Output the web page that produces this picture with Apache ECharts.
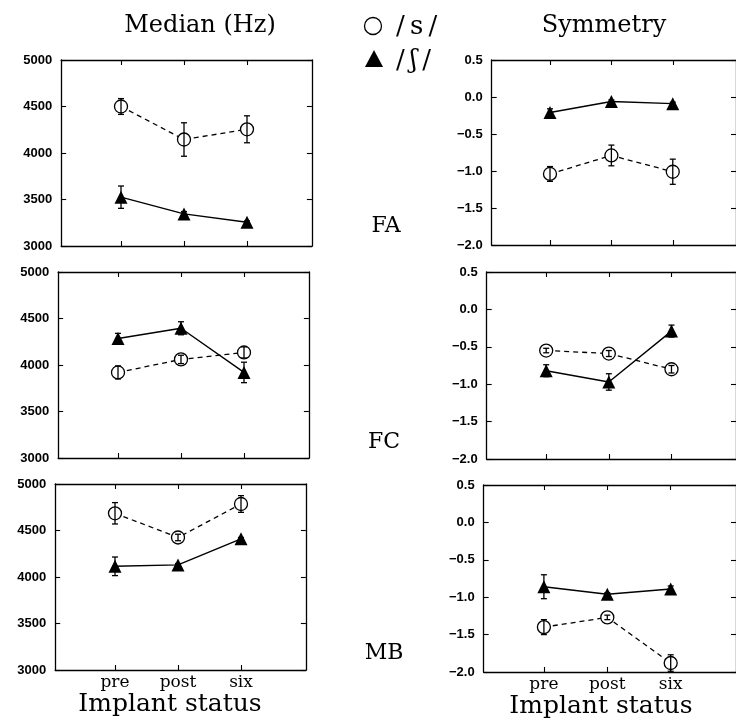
<!DOCTYPE html>
<html>
<head>
<meta charset="utf-8">
<title>Median and symmetry by implant status</title>
<script src="https://cdn.jsdelivr.net/npm/echarts@6.0.0/dist/echarts.min.js"></script>
<style>
  html, body { margin: 0; padding: 0; background: #fff; }
  #main { width: 736px; height: 722px; }
</style>
</head>
<body>
<div id="main"></div>
<script>
// categories and tick labels
var categories = ['pre', 'post', 'six'];
var talkers = ['FA', 'FC', 'MB'];
var medianTicks = [3000, 3500, 4000, 4500, 5000];
var symmetryTicks = [-2.0, -1.5, -1.0, -0.5, 0.0, 0.5];

// Median (Hz): /s/ (open circles) and /ʃ/ (filled triangles), mean and half error bar
var medianS_FA = [4500, 4145, 4255];
var medianSErr_FA = [85, 180, 145];
var medianSh_FA = [3525, 3345, 3255];
var medianShErr_FA = [120, 25, 15];

var medianS_FC = [3920, 4060, 4135];
var medianSErr_FC = [70, 45, 60];
var medianSh_FC = [4285, 4395, 3920];
var medianShErr_FC = [55, 70, 110];

var medianS_MB = [4685, 4425, 4785];
var medianSErr_MB = [115, 35, 90];
var medianSh_MB = [4115, 4130, 4410];
var medianShErr_MB = [100, 15, 15];

// Symmetry
var symS_FA = [-1.04, -0.79, -1.01];
var symSErr_FA = [0.10, 0.14, 0.17];
var symSh_FA = [-0.21, -0.06, -0.09];
var symShErr_FA = [0.05, 0.02, 0.02];

var symS_FC = [-0.55, -0.59, -0.80];
var symSErr_FC = [0.03, 0.04, 0.05];
var symSh_FC = [-0.82, -0.97, -0.29];
var symShErr_FC = [0.08, 0.11, 0.08];

var symS_MB = [-1.40, -1.27, -1.88];
var symSErr_MB = [0.10, 0.03, 0.11];
var symSh_MB = [-0.86, -0.96, -0.89];
var symShErr_MB = [0.16, 0.02, 0.04];

var myChart = echarts.init(document.getElementById('main'));

var serif = "'DejaVu Serif', 'Liberation Serif', serif";
var tickFont = "'Liberation Sans', Arial, sans-serif";
var xMin = 0.05, xMax = 4.03;

// panel boxes: x of "pre", tick step, top, height
var panels = [
    { pre: 121, step: 63, top: 60, height: 186, kind: 'median', s: medianS_FA, sErr: medianSErr_FA, sh: medianSh_FA, shErr: medianShErr_FA, bottom: false },
    { pre: 552, step: 63.5, top: 60, height: 185, kind: 'sym', s: symS_FA, sErr: symSErr_FA, sh: symSh_FA, shErr: symShErr_FA, bottom: false },
    { pre: 118, step: 63, top: 272, height: 186, kind: 'median', s: medianS_FC, sErr: medianSErr_FC, sh: medianSh_FC, shErr: medianShErr_FC, bottom: false },
    { pre: 547, step: 63.5, top: 272, height: 187, kind: 'sym', s: symS_FC, sErr: symSErr_FC, sh: symSh_FC, shErr: symShErr_FC, bottom: false },
    { pre: 115, step: 63, top: 484, height: 186, kind: 'median', s: medianS_MB, sErr: medianSErr_MB, sh: medianSh_MB, shErr: medianShErr_MB, bottom: true },
    { pre: 544, step: 63.5, top: 485, height: 187, kind: 'sym', s: symS_MB, sErr: symSErr_MB, sh: symSh_MB, shErr: symShErr_MB, bottom: true }
];

var grids = [], xAxes = [], yAxes = [], series = [];

function errorBars(vals, errs) {
    return vals.map(function (v, i) { return [i + 1, v - errs[i], v + errs[i]]; });
}

function renderErr(params, api) {
    var x = api.value(0);
    var top = api.coord([x, api.value(2)]);
    var bot = api.coord([x, api.value(1)]);
    var st = { stroke: '#000', lineWidth: 1.3 };
    return {
        type: 'group',
        children: [
            { type: 'line', shape: { x1: top[0], y1: top[1], x2: bot[0], y2: bot[1] }, style: st },
            { type: 'line', shape: { x1: top[0] - 3, y1: top[1], x2: top[0] + 3, y2: top[1] }, style: st },
            { type: 'line', shape: { x1: bot[0] - 3, y1: bot[1], x2: bot[0] + 3, y2: bot[1] }, style: st }
        ]
    };
}

panels.forEach(function (p, i) {
    var left = p.pre - (1 - xMin) * p.step;
    grids.push({ left: left, top: p.top, width: (xMax - xMin) * p.step, height: p.height, containLabel: false });

    var axLine = { show: true, onZero: false, lineStyle: { color: '#000', width: 1.3 } };
    var tick = { show: true, inside: true, length: 5, lineStyle: { color: '#000', width: 1.1 } };

    xAxes.push({
        type: 'value', gridIndex: i, min: xMin, max: xMax, position: 'bottom',
        axisLine: axLine, splitLine: { show: false },
        axisTick: Object.assign({ customValues: [1, 2, 3] }, tick),
        axisLabel: {
            show: p.bottom, customValues: [1, 2, 3], margin: 4,
            formatter: function (v) { return categories[Math.round(v) - 1]; },
            color: '#000', fontFamily: serif, fontSize: 17
        }
    });
    xAxes.push({
        type: 'value', gridIndex: i, min: xMin, max: xMax, position: 'top',
        axisLine: axLine, splitLine: { show: false },
        axisTick: Object.assign({ customValues: [1, 2, 3] }, tick),
        axisLabel: { show: false }
    });

    var yRange = p.kind === 'median'
        ? { min: medianTicks[0], max: medianTicks[medianTicks.length - 1], interval: 500 }
        : { min: symmetryTicks[0], max: symmetryTicks[symmetryTicks.length - 1], interval: 0.5 };

    yAxes.push(Object.assign({
        type: 'value', gridIndex: i, position: 'left',
        axisLine: axLine, splitLine: { show: false }, axisTick: tick,
        axisLabel: {
            margin: 9, color: '#000', fontFamily: tickFont, fontWeight: 'bold', fontSize: 13,
            formatter: function (v) {
                return p.kind === 'median' ? String(v) : v.toFixed(1).replace('-', '\u2212');
            }
        }
    }, yRange));
    yAxes.push(Object.assign({
        type: 'value', gridIndex: i, position: 'right',
        axisLine: axLine, splitLine: { show: false }, axisTick: tick,
        axisLabel: { show: false }
    }, yRange));

    var xi = 2 * i, yi = 2 * i;
    series.push({
        type: 'line', xAxisIndex: xi, yAxisIndex: yi, z: 2,
        data: p.s.map(function (v, k) { return [k + 1, v]; }),
        symbol: 'circle', symbolSize: 13,
        itemStyle: { color: '#fff', borderColor: '#000', borderWidth: 1.3 },
        lineStyle: { color: '#000', width: 1.3, type: [5, 4] },
        animation: false
    });
    series.push({
        type: 'line', xAxisIndex: xi, yAxisIndex: yi, z: 2,
        data: p.sh.map(function (v, k) { return [k + 1, v]; }),
        symbol: 'triangle', symbolSize: 13,
        itemStyle: { color: '#000' },
        lineStyle: { color: '#000', width: 1.4 },
        animation: false
    });
    series.push({
        type: 'custom', xAxisIndex: xi, yAxisIndex: yi, z: 3,
        renderItem: renderErr, encode: { x: 0, y: [1, 2] },
        data: errorBars(p.s, p.sErr), animation: false
    });
    series.push({
        type: 'custom', xAxisIndex: xi, yAxisIndex: yi, z: 3,
        renderItem: renderErr, encode: { x: 0, y: [1, 2] },
        data: errorBars(p.sh, p.shErr), animation: false
    });
});

function label(text, x, y, size, align) {
    return {
        type: 'text', x: x, y: y, silent: true,
        style: { text: text, fill: '#000', font: size + 'px ' + serif, align: align || 'center', verticalAlign: 'middle' }
    };
}

var graphics = [
    label('Median (Hz)', 200, 26, 24),
    label('Symmetry', 604, 26, 24),
    label('Implant status', 170, 704, 25),
    label('Implant status', 601, 706, 25),
    label(talkers[0], 386, 226, 22),
    label(talkers[1], 384, 442, 22),
    label(talkers[2], 384, 653, 22),
    { type: 'circle', shape: { cx: 373, cy: 26, r: 8.5 }, style: { stroke: '#000', lineWidth: 1.3, fill: 'none' } },
    label('/\u2009s\u2009/', 396, 27, 26, 'left'),
    { type: 'polygon', shape: { points: [[365, 67], [383, 67], [374, 50]] }, style: { fill: '#000' } },
    label('/\u2009\u0283\u2009/', 396, 61, 26, 'left')
];

var option = {
    backgroundColor: '#fff',
    animation: false,
    grid: grids,
    xAxis: xAxes,
    yAxis: yAxes,
    series: series,
    graphic: graphics
};

myChart.setOption(option);
</script>
</body>
</html>
